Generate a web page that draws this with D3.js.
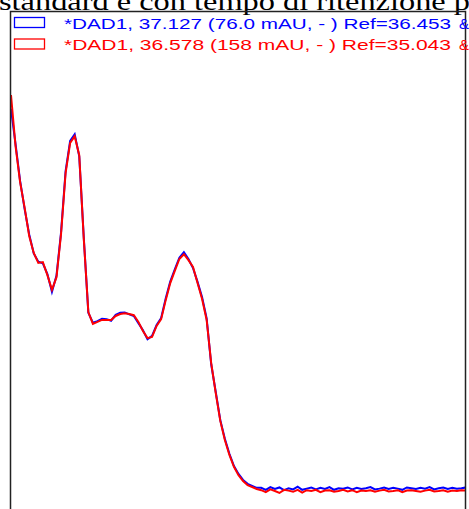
<!DOCTYPE html>
<html>
<head>
<meta charset="utf-8">
<script src="https://cdn.jsdelivr.net/npm/d3@7"></script>
<style>
  body { margin: 0; background: #fff; overflow: hidden; }
  svg { display: block; }
</style>
</head>
<body>
<script>
// spectra sampled every 2 nm, normalised to 100
var wavelengths = d3.range(200, 401, 2);

var redValues = [
  100.0, 87.1, 78.0, 71.5, 64.4, 60.1, 57.6, 57.8, 54.5, 50.8,
  54.0, 64.9, 80.3, 87.9, 89.6, 84.8, 63.6, 45.2, 42.2, 42.7,
  43.2, 43.2, 43.2, 44.2, 44.7, 44.9, 44.7, 44.4, 42.7, 40.4,
  38.6, 38.9, 41.7, 43.4, 48.2, 52.5, 55.6, 58.6, 59.8, 58.3,
  56.6, 52.5, 48.5, 43.2, 32.3, 24.7, 17.7, 12.9, 9.1, 6.1,
  4.0, 2.5, 1.5, 1.0, 0.5,
  0.2, -0.3, 0.4, 0.0, -0.5, 0.3, 0.1, -0.2, 0.3, -0.4,
  0.2, 0.0, 0.3, -0.3, 0.1, 0.2, -0.2, 0.0, 0.3, -0.1,
  0.2, -0.3, 0.1, 0.0, 0.2, -0.2, 0.1, 0.3, -0.1, 0.0,
  0.2, -0.3, 0.1, 0.2, 0.0, -0.2, 0.1, 0.3, -0.1, 0.0,
  0.2, -0.2, 0.1, 0.0, 0.2, 0.1
];

var blueValues = [
  96.5, 87.6, 78.3, 71.2, 64.8, 60.0, 57.9, 57.5, 54.8, 50.3,
  54.4, 65.3, 80.8, 88.4, 90.1, 84.5, 63.9, 45.0, 42.5, 42.9,
  43.5, 43.4, 43.0, 44.5, 45.0, 45.1, 44.6, 44.2, 42.4, 40.6,
  38.3, 39.2, 41.9, 43.7, 48.6, 52.9, 56.0, 58.9, 60.3, 58.6,
  56.3, 52.8, 48.9, 43.6, 32.0, 25.0, 17.9, 13.2, 9.4, 6.3,
  4.3, 2.8, 1.8, 1.3, 0.8,
  0.8, 0.3, 1.0, 0.5, 0.9, 0.2, 0.7, 0.4, 1.1, 0.3,
  0.6, 0.9, 0.4, 0.8, 0.5, 1.0, 0.3, 0.7, 0.6, 0.9,
  0.4, 0.8, 0.5, 0.7, 1.0, 0.4, 0.6, 0.9, 0.5, 0.8,
  0.6, 0.3, 0.9, 0.7, 0.5, 0.8, 0.6, 1.0, 0.4, 0.7,
  0.9, 0.5, 0.8, 0.6, 0.7, 0.9
];

var legendLabels = [
  "*DAD1, 37.127 (76.0 mAU, - ) Ref=36.453",
  "*DAD1, 36.578 (158 mAU, - ) Ref=35.043"
];
var legendColors = ["#0000ff", "#ff0000"];

var width = 469, height = 509;
var box = {left: 10.5, top: 11.5, right: 465.5};

var svg = d3.select("body").append("svg")
  .attr("width", width)
  .attr("height", height);

// caption text from the document, cut by the crop
svg.append("text")
  .attr("x", -1)
  .attr("y", 10)
  .attr("textLength", 471)
  .attr("lengthAdjust", "spacingAndGlyphs")
  .style("font-family", "'Liberation Serif', 'Times New Roman', serif")
  .style("font-size", "26px")
  .text("standard e con tempo di ritenzione p");

var xScale = d3.scaleLinear().domain([200, 400]).range([11, 466]);
var yScale = d3.scaleLinear().domain([0, 100]).range([491, 95]);

svg.append("clipPath").attr("id", "plot-clip")
  .append("rect")
  .attr("x", box.left + 0.5).attr("y", box.top + 0.5)
  .attr("width", box.right - box.left - 1).attr("height", height);

var line = d3.line()
  .x(function(d, i) { return xScale(wavelengths[i]); })
  .y(function(d) { return yScale(d); });

var plot = svg.append("g").attr("clip-path", "url(#plot-clip)");

plot.append("path")
  .datum(blueValues)
  .attr("d", line)
  .attr("fill", "none")
  .attr("stroke", "#0000ff")
  .attr("stroke-width", 2);

plot.append("path")
  .datum(redValues)
  .attr("d", line)
  .attr("fill", "none")
  .attr("stroke", "#ff0000")
  .attr("stroke-width", 2);

// frame
svg.append("path")
  .attr("d", "M" + box.left + "," + height + "V" + box.top + "H" + box.right + "V" + height)
  .attr("fill", "none")
  .attr("stroke", "#222")
  .attr("stroke-width", 1.5);

// legend
var legend = svg.selectAll(".legend")
  .data(legendLabels)
  .enter().append("g")
  .attr("class", "legend")
  .attr("transform", function(d, i) { return "translate(0," + (i * 21.5) + ")"; });

legend.append("rect")
  .attr("x", 14.5).attr("y", 17.5)
  .attr("width", 30).attr("height", 10)
  .attr("fill", "none")
  .attr("stroke", function(d, i) { return legendColors[i]; })
  .attr("stroke-width", 1.3);

legend.append("text")
  .attr("x", 64)
  .attr("y", 28.5)
  .attr("textLength", 387)
  .attr("lengthAdjust", "spacingAndGlyphs")
  .style("font-family", "'Liberation Sans', Arial, sans-serif")
  .style("font-size", "15px")
  .style("fill", function(d, i) { return legendColors[i]; })
  .text(function(d) { return d; });

legend.append("text")
  .attr("x", 459)
  .attr("y", 28.5)
  .style("font-family", "'Liberation Sans', Arial, sans-serif")
  .style("font-size", "15px")
  .style("fill", function(d, i) { return legendColors[i]; })
  .text("&");
</script>
</body>
</html>
